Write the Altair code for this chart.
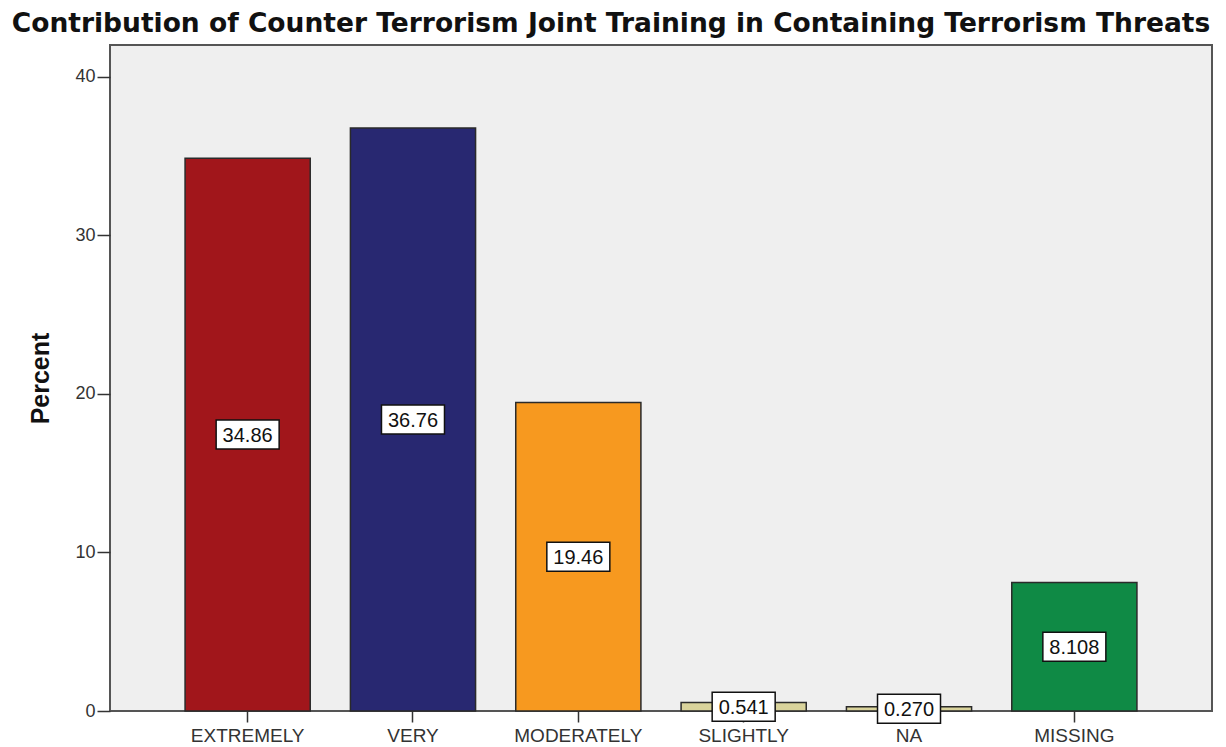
import altair as alt
import pandas as pd

# Response categories and their share of respondents (%)
categories = ["EXTREMELY", "VERY", "MODERATELY", "SLIGHTLY", "NA", "MISSING"]
percents = [34.86, 36.76, 19.46, 0.541, 0.270, 8.108]
value_labels = ["34.86", "36.76", "19.46", "0.541", "0.270", "8.108"]
bar_colors = ["#a1161b", "#282871", "#f7991f", "#d9d39b", "#d9d39b", "#0f8a45"]
y_ticks = [0, 10, 20, 30, 40]

df = pd.DataFrame({
    "category": categories,
    "percent": percents,
    "label": value_labels,
})
df["mid"] = df["percent"] / 2

FONT = "Liberation Sans"

x_enc = alt.X(
    "category:N",
    sort=categories,
    scale=alt.Scale(paddingInner=0.243, paddingOuter=0.454),
    axis=alt.Axis(
        title=None,
        labelAngle=0,
        labelFont=FONT,
        labelFontSize=19,
        labelColor="#333333",
        tickSize=11,
        tickColor="#333333",
        tickWidth=1.5,
        labelPadding=4,
        domain=False,
    ),
)

y_scale = alt.Scale(domain=[0, 42], nice=False, zero=True)
y_axis = alt.Axis(
    title="Percent",
    values=y_ticks,
    grid=False,
    domain=False,
    labelFont=FONT,
    labelFontSize=18,
    labelColor="#333333",
    tickSize=13,
    tickColor="#333333",
    tickWidth=1.5,
    labelPadding=2,
    titleFont=FONT,
    titleFontSize=25,
    titleFontWeight="bold",
    titleColor="#111111",
    titlePadding=21,
)

bars = alt.Chart(df).mark_bar(stroke="#2a2a2a", strokeWidth=1.5).encode(
    x=x_enc,
    y=alt.Y("percent:Q", scale=y_scale, axis=y_axis),
    color=alt.Color(
        "category:N",
        scale=alt.Scale(domain=categories, range=bar_colors),
        legend=None,
    ),
)

# White label boxes centred on each bar's midpoint
box_shape = "M-1,-0.46H1V0.46H-1Z"
boxes = alt.Chart(df).mark_point(
    shape=box_shape,
    size=63 * 63,
    filled=True,
    fill="white",
    stroke="#111111",
    strokeWidth=1.5,
    opacity=1,
).encode(
    x=alt.X("category:N", sort=categories),
    y=alt.Y("mid:Q", scale=y_scale, axis=y_axis),
)

texts = alt.Chart(df).mark_text(
    font=FONT,
    fontSize=20,
    color="#111111",
    baseline="middle",
    dy=1,
).encode(
    x=alt.X("category:N", sort=categories),
    y=alt.Y("mid:Q", scale=y_scale, axis=y_axis),
    text="label:N",
)

chart = (
    alt.layer(bars, boxes, texts)
    .properties(
        width=1102,
        height=666,
        autosize=alt.AutoSizeParams(type="none"),
        padding={"left": 110, "top": 45, "right": 14, "bottom": 36},
        background="white",
        title=alt.TitleParams(
            "Contribution of Counter Terrorism Joint Training in Containing Terrorism Threats",
            font="DejaVu Sans",
            fontSize=26.5,
            fontWeight="bold",
            color="#111111",
            anchor="middle",
            dx=-50,
            offset=8,
        ),
    )
    .configure_view(fill="#efefef", stroke="#555555", strokeWidth=2)
)

chart.save("out.html", embed_options={"renderer": "svg", "actions": False})
